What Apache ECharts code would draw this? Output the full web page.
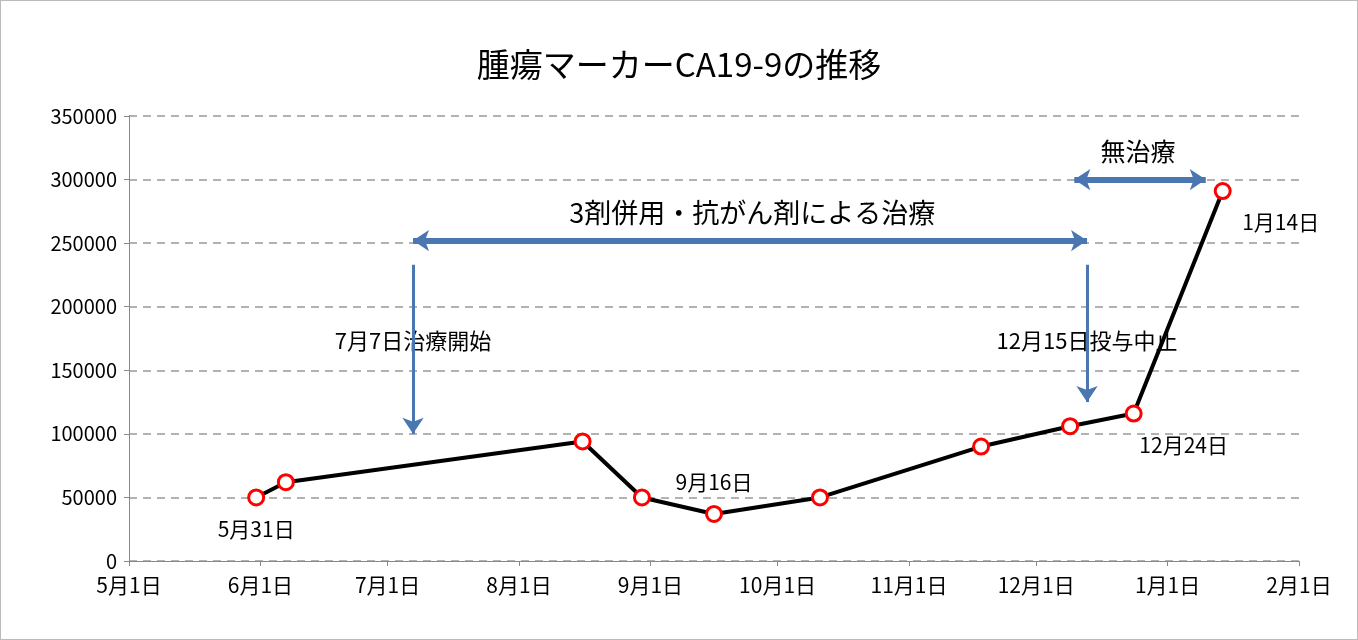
<!DOCTYPE html>
<html><head><meta charset="utf-8">
<script src="https://cdn.jsdelivr.net/npm/echarts@6/dist/echarts.min.js"></script>
<style>html,body{margin:0;padding:0;background:#fff}#c{width:1358px;height:640px;box-sizing:border-box;border:1px solid #bbb}</style>
</head><body><div id="c"></div>
<script>
const dates = ['2013-05-31','2013-06-07','2013-08-16','2013-08-30','2013-09-16','2013-10-11','2013-11-18','2013-12-09','2013-12-24','2014-01-14'];
const values = [50000,62000,94000,50000,37000,50000,90000,106000,116000,291000];
const pointLabels = ['5月31日','','','','9月16日','','','','12月24日','1月14日'];
const labelPos = ['bottom','','','','top','','','','bottom','bottom'];
const labelOffset = [[0,0],[0,0],[0,0],[0,0],[0,0],[0,0],[0,0],[0,0],[50,0],[58,0]];
const yTicks = {min:0,max:350000,interval:50000};
const F = '"Noto Sans CJK JP","Noto Sans",sans-serif';
const blue = '#4a76b2';
const chart = echarts.init(document.getElementById('c'));
const ts = s => new Date(s+'T00:00:00').getTime();
chart.setOption({
  animation:false,
  title:{text:'腫瘍マーカーCA19-9の推移',left:'center',top:42,textStyle:{fontFamily:F,fontSize:33,fontWeight:'normal',color:'#000'}},
  grid:{left:128,right:58,top:115,bottom:78},
  xAxis:{type:'time',min:ts('2013-05-01'),max:ts('2014-02-01'),minInterval:28*864e5,maxInterval:31*864e5,
    axisLine:{lineStyle:{color:'#888'}},axisTick:{show:true,lineStyle:{color:'#888'}},splitLine:{show:false},
    axisLabel:{fontFamily:F,fontSize:21,color:'#000',margin:14,formatter:v=>{const d=new Date(v);return (d.getMonth()+1)+'月'+d.getDate()+'日';}}},
  yAxis:{type:'value',min:yTicks.min,max:yTicks.max,interval:yTicks.interval,
    axisLine:{show:true,lineStyle:{color:'#888'}},axisTick:{show:true,inside:false,lineStyle:{color:'#888'}},
    splitLine:{lineStyle:{color:'#999',type:[8,6],width:1.5}},
    axisLabel:{fontFamily:F,fontSize:20,color:'#000',margin:12,formatter:v=>String(v)}},
  series:[{type:'line',data:dates.map((d,i)=>({value:[ts(d),values[i]],label:{show:!!pointLabels[i],position:labelPos[i]||'top',offset:labelOffset[i],formatter:pointLabels[i],distance:12}})),
    lineStyle:{color:'#000',width:4},symbol:'circle',symbolSize:15,
    itemStyle:{color:'#fff',borderColor:'#ff0000',borderWidth:3},
    label:{fontFamily:F,fontSize:21,color:'#000'},
    markLine:{silent:true,symbol:['arrow','arrow'],symbolSize:[16,16],label:{show:false},
      data:[
        [{coord:[ts('2013-07-07'),252000],lineStyle:{color:blue,width:6,type:'solid'}},{coord:[ts('2013-12-13'),252000]}],
        [{coord:[ts('2013-12-10'),300000],lineStyle:{color:blue,width:6,type:'solid'}},{coord:[ts('2014-01-10'),300000]}],
        [{coord:[ts('2013-07-07'),233000],symbol:'none',lineStyle:{color:blue,width:3,type:'solid'}},{coord:[ts('2013-07-07'),100000],symbol:'arrow'}],
        [{coord:[ts('2013-12-13'),233000],symbol:'none',lineStyle:{color:blue,width:3,type:'solid'}},{coord:[ts('2013-12-13'),125000],symbol:'arrow'}]
      ]}
  }]
});
const P=(d,v)=>chart.convertToPixel({gridIndex:0},[ts(d),v]);
const txt=(d,v,t,size)=>{const p=P(d,v);return {type:'text',x:p[0],y:p[1],style:{text:t,font:size+'px '+F,fill:'#000',textAlign:'center',textVerticalAlign:'middle',backgroundColor:'#fff'}};};
chart.setOption({graphic:[
  txt('2013-09-25',274000,'3剤併用・抗がん剤による治療',27),
  txt('2013-12-25',322000,'無治療',25),
  txt('2013-07-07',173000,'7月7日治療開始',22),
  txt('2013-12-13',173000,'12月15日投与中止',22)
]});
</script></body></html>
